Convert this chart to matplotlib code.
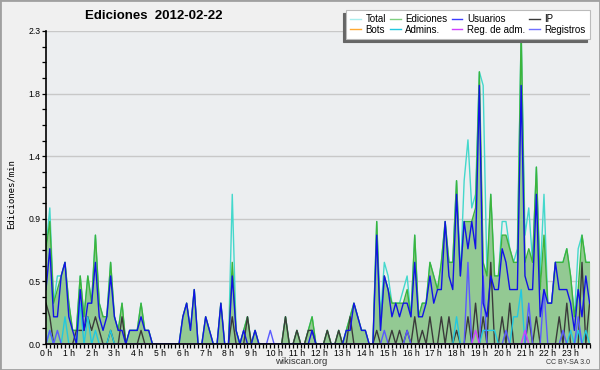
import matplotlib
matplotlib.use("Agg")
import matplotlib.pyplot as plt
from matplotlib.lines import Line2D
from matplotlib.patches import Rectangle
import numpy as np

# 10-minute bins (144 per day), values in edits per minute (tenths)
hours = [f"{h} h" for h in range(24)]

ediciones = [7, 9, 3, 4, 5, 6,  3, 1, 1, 5, 2, 5,  3, 8, 3, 2, 2, 6,  2, 1, 3, 0, 1, 1,
             1, 3, 1, 1, 0, 0,  0, 0, 0, 0, 0, 0,  2, 3, 1, 4, 0, 0,  2, 1, 0, 0, 3, 0,
             0, 6, 1, 0, 1, 2,  0, 1, 0, 0, 0, 0,  0, 0, 0, 2, 0, 0,  1, 0, 0, 1, 2, 0,
             0, 0, 1, 0, 0, 1,  0, 1, 2, 3, 2, 1,  1, 0, 0, 9, 1, 5,  4, 3, 3, 3, 3, 4,
             2, 8, 2, 3, 3, 6,  5, 4, 6, 9, 6, 6,  12, 5, 9, 9, 9, 10,  20, 6, 5, 11, 5, 5,
             8, 8, 7, 6, 6, 23,  6, 7, 6, 13, 4, 8,  3, 3, 6, 6, 6, 7,  5, 2, 4, 8, 6, 6]

total = [7, 10, 3, 5, 5, 6,  3, 1, 1, 5, 2, 5,  3, 8, 3, 2, 2, 6,  2, 1, 3, 0, 1, 1,
         1, 3, 1, 1, 0, 0,  0, 0, 0, 0, 0, 0,  2, 3, 1, 4, 0, 0,  2, 1, 0, 0, 3, 0,
         0, 11, 1, 0, 1, 2,  0, 1, 0, 0, 0, 0,  0, 0, 0, 2, 0, 0,  1, 0, 0, 1, 2, 0,
         0, 0, 1, 0, 0, 1,  0, 1, 2, 3, 2, 1,  1, 0, 0, 9, 2, 6,  5, 3, 3, 3, 4, 5,
         2, 8, 2, 3, 3, 6,  5, 4, 6, 9, 6, 6,  12, 5, 12, 15, 10, 11,  20, 19, 5, 11, 5, 5,
         9, 9, 7, 6, 7, 23,  8, 10, 6, 13, 5, 11,  3, 3, 6, 6, 6, 7,  5, 2, 7, 8, 6, 6]

usuarios = [4, 7, 2, 2, 5, 6,  2, 1, 0, 4, 1, 3,  3, 6, 2, 1, 2, 5,  2, 1, 1, 0, 1, 1,
            1, 2, 1, 1, 0, 0,  0, 0, 0, 0, 0, 0,  2, 3, 1, 4, 0, 0,  2, 1, 0, 0, 3, 0,
            0, 5, 1, 0, 1, 0,  0, 1, 0, 0, 0, 0,  0, 0, 0, 0, 0, 0,  0, 0, 0, 0, 1, 0,
            0, 0, 0, 0, 0, 0,  0, 1, 1, 3, 2, 1,  1, 0, 0, 8, 1, 5,  4, 2, 3, 2, 3, 3,
            2, 6, 2, 2, 3, 5,  3, 4, 4, 9, 5, 4,  11, 5, 9, 7, 9, 7,  19, 3, 2, 5, 4, 4,
            7, 6, 4, 4, 4, 19,  5, 4, 4, 11, 2, 4,  3, 3, 6, 4, 4, 4,  3, 1, 4, 2, 5, 3]

ip = [3, 2, 0, 0, 0, 0,  0, 0, 1, 1, 1, 2,  1, 2, 1, 0, 0, 1,  0, 0, 2, 0, 0, 0,
      0, 1, 0, 0, 0, 0,  0, 0, 0, 0, 0, 0,  0, 0, 0, 0, 0, 0,  0, 0, 0, 0, 0, 0,
      0, 2, 0, 0, 0, 2,  0, 0, 0, 0, 0, 0,  0, 0, 0, 2, 0, 0,  1, 0, 0, 1, 1, 0,
      0, 0, 1, 0, 0, 1,  0, 0, 2, 0, 0, 0,  0, 0, 0, 1, 0, 0,  0, 1, 0, 1, 0, 1,
      0, 2, 0, 1, 0, 2,  0, 0, 2, 0, 2, 0,  1, 0, 0, 2, 0, 3,  0, 2, 0, 6, 0, 0,
      2, 0, 3, 0, 0, 0,  0, 2, 0, 2, 0, 0,  0, 0, 0, 2, 0, 3,  0, 0, 0, 6, 0, 3]

bots = [0] * 144

admins = [0, 1, 0, 0, 0, 2,  0, 0, 0, 3, 0, 2,  0, 1, 0, 0, 0, 1,  0, 0, 0, 0, 0, 0,
          0, 0, 0, 0, 0, 0,  0, 0, 0, 0, 0, 0,  0, 0, 0, 0, 0, 0,  0, 0, 0, 0, 0, 0,
          0, 0, 0, 0, 0, 0,  0, 0, 0, 0, 0, 0,  0, 0, 0, 0, 0, 0,  0, 0, 0, 0, 0, 0,
          0, 0, 0, 0, 0, 0,  0, 0, 0, 0, 0, 0,  0, 0, 0, 0, 0, 0,  0, 0, 0, 0, 0, 0,
          0, 0, 0, 0, 0, 0,  0, 0, 0, 0, 0, 0,  2, 0, 0, 0, 0, 0,  0, 1, 1, 1, 1, 0,
          0, 0, 0, 2, 2, 4,  0, 0, 0, 0, 0, 0,  0, 0, 0, 0, 0, 0,  1, 0, 1, 0, 1, 0]

reg_adm = [0] * 113 + [1] + [0] * 12 + [1] + [0] * 17

registros = [0, 1, 0, 1, 0, 0,  0, 0, 0, 0, 0, 0,  0, 0, 0, 0, 0, 0,  0, 0, 0, 0, 0, 0,
             0, 0, 0, 0, 0, 0,  0, 0, 0, 0, 0, 0,  0, 0, 0, 0, 0, 0,  0, 0, 0, 0, 0, 0,
             0, 0, 0, 0, 0, 0,  0, 0, 0, 0, 0, 1,  0, 0, 0, 0, 0, 0,  0, 0, 0, 0, 0, 0,
             0, 0, 0, 0, 0, 0,  0, 0, 0, 0, 0, 0,  0, 0, 0, 0, 0, 1,  0, 0, 0, 0, 0, 1,
             0, 0, 0, 0, 0, 0,  0, 0, 0, 0, 0, 0,  0, 0, 0, 6, 0, 0,  0, 5, 0, 0, 0, 0,
             0, 1, 0, 0, 0, 0,  0, 3, 0, 0, 0, 4,  0, 0, 0, 0, 1, 0,  0, 0, 2, 0, 0, 0]

def scale(v):
    return np.array(v, dtype=float) / 10.0

x = np.arange(144)

fig = plt.figure(figsize=(6, 3.7), dpi=100, facecolor="#f0f0f0")
ax = fig.add_axes([46 / 600, 1 - 344 / 370, 543.6 / 600, 313 / 370])
ax.set_facecolor("#eceef0")

ymax = 2.3
ax.set_xlim(0, 143)
ax.set_ylim(0, ymax)

yt = [ymax * k / 5 for k in range(6)]
ax.set_yticks(yt)
ax.set_yticklabels([f"{v:.1f}" for v in yt])
ax.set_yticks([ymax * k / 20 for k in range(21)], minor=True)
for v in yt[1:]:
    ax.axhline(v, color="#c8c8c8", lw=1.0, zorder=0)

ax.set_xticks(np.arange(0, 144, 6))
ax.set_xticklabels(hours)
ax.set_xticks(x, minor=True)

ax.tick_params(axis="both", which="both", direction="out", length=3, width=0.9,
               colors="black", pad=0.8)
for lab in ax.get_xticklabels() + ax.get_yticklabels():
    lab.set_fontfamily("Liberation Sans")
    lab.set_fontsize(6.2)

for s in ["top", "right"]:
    ax.spines[s].set_visible(False)
for s in ["left", "bottom"]:
    ax.spines[s].set_linewidth(1.2)
    ax.spines[s].set_zorder(10)

lw = 1.0
c_total = "#44d8cc"
c_edit = "#3cb43c"
c_fill = "#93c993"
c_user = "#1212e6"
c_ip = "#3a3a3a"
c_bots = "#ffaa33"
c_admin = "#22c8e0"
c_regadm = "#d040ff"
c_reg = "#5a5aff"

ax.plot(x, scale(total), color=c_total, lw=lw, zorder=2)
ax.fill_between(x, 0, scale(ediciones), color=c_fill, lw=0, zorder=3)
ax.plot(x, scale(ediciones), color=c_edit, lw=lw, zorder=4)
ax.plot(x, scale(bots), color=c_bots, lw=lw, zorder=4)
ax.plot(x, scale(ip), color=c_ip, lw=lw, zorder=5)
ax.plot(x, scale(admins), color=c_admin, lw=lw, zorder=5)
ax.plot(x, scale(registros), color=c_reg, lw=lw, zorder=5)
ax.plot(x, scale(reg_adm), color=c_regadm, lw=lw, zorder=5)
ax.plot(x, scale(usuarios), color=c_user, lw=lw, zorder=6)

labels = ["Total", "Bots", "Ediciones", "Admins.", "Usuarios", "Reg. de adm.", "IP", "Registros"]
colors = ["#a8eeee", c_bots, "#80d080", c_admin, "#3c3cff", c_regadm, c_ip, "#7070ff"]
handles = [Line2D([0], [0], color=c, lw=1.0) for c in colors]
leg = fig.legend(handles, labels, ncol=4, loc="upper right",
                 bbox_to_anchor=(590 / 600, 1 - 10 / 370), borderaxespad=0,
                 prop={"family": "Liberation Sans", "size": 7},
                 handlelength=1.1, handletextpad=0.45, columnspacing=0.45,
                 labelspacing=0.05, borderpad=0.45, fancybox=False,
                 framealpha=1, edgecolor="#bbbbbb",
                 shadow={"ox": -2, "oy": -2, "color": "#666666", "alpha": 1})
leg.get_frame().set_linewidth(0.8)
leg.set_zorder(20)

fig.text(154 / 600, 1 - 16 / 370, "Ediciones  2012-02-22", ha="center", va="center",
         fontsize=9.5, fontweight="bold", family="Liberation Sans")
fig.text(11 / 600, 1 - 194 / 370, "Ediciones/min", rotation=90, ha="center", va="center",
         fontsize=6.5, family="DejaVu Sans Mono")
fig.text(301 / 600, 1 - 362 / 370, "wikiscan.org", ha="center", va="center",
         fontsize=6.8, family="Liberation Sans", color="#333333")
fig.text(590 / 600, 1 - 362 / 370, "CC BY-SA 3.0", ha="right", va="center",
         fontsize=5, family="Liberation Sans", color="#333333")

fig.patches.append(Rectangle((0, 0), 1, 1, transform=fig.transFigure, fill=False,
                             edgecolor="#a0a0a0", lw=2, zorder=30))

fig.savefig("out.png", dpi=100, facecolor=fig.get_facecolor())
